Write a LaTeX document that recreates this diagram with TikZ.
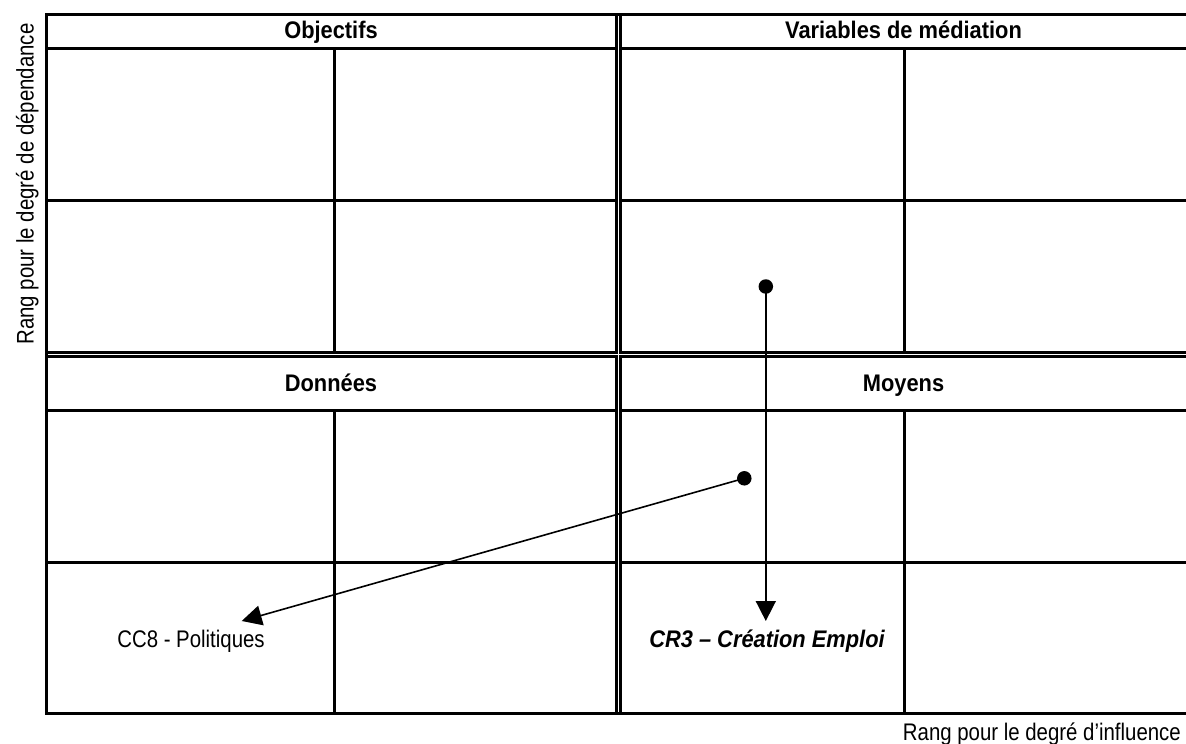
\documentclass[tikz,border=0pt]{standalone}
\usepackage{fontspec}
\setmainfont{Liberation Sans}[FakeStretch=0.85]
\newfontfamily\boldnarrow{Liberation Sans}[FakeStretch=0.91]
\usetikzlibrary{arrows.meta}
\tikzset{
  hdr/.style={font=\boldnarrow\bfseries\fontsize{24}{28}\selectfont, anchor=base, inner sep=0pt},
  lbl/.style={font=\fontsize{24}{28}\selectfont, anchor=base, inner sep=0pt},
  gridline/.style={line width=3pt, line join=miter},
  dbl/.style={line width=7.2pt},
  gap/.style={line width=1.3pt, white},
  dotnode/.style={circle, fill=black, inner sep=0pt, minimum size=14.5pt},
  arr/.style={line width=1.6pt, -{Triangle[length=20pt,width=20pt]}}
}
\begin{document}
\begin{tikzpicture}[x=1pt,y=-1pt]
\useasboundingbox (0,0) rectangle (1186,744);
% outer frame (open on the right)
\draw[gridline] (1186,14.7) -- (46.8,14.7) -- (46.8,713.8) -- (1186,713.8);
% header bottoms and row dividers
\draw[gridline] (46.8,48) -- (1186,48);
\draw[gridline] (46.8,200) -- (1186,200);
\draw[gridline] (46.8,410.5) -- (1186,410.5);
\draw[gridline] (46.8,562) -- (1186,562);
% inner verticals
\draw[gridline] (334.7,48) -- (334.7,352);
\draw[gridline] (904.7,48) -- (904.7,352);
\draw[gridline] (334.7,410.5) -- (334.7,713.8);
\draw[gridline] (904.7,410.5) -- (904.7,713.8);
% double lines
\draw[dbl] (46.8,354.4) -- (1186,354.4);
\draw[dbl] (618.5,13.2) -- (618.5,715.3);
\draw[gap] (48.3,354.4) -- (1186,354.4);
\draw[gap] (618.5,16.2) -- (618.5,712.3);
% headers
\node[hdr] (hobj) at (331,38.5) {Objectifs};
\node[hdr] (hvar) at (903.5,38.5) {Variables de médiation};
\node[hdr] (hdon) at (331,391.5) {Données};
\node[hdr] (hmoy) at (903.5,391.5) {Moyens};
% axis labels
\node[lbl, rotate=90] (ylab) at (33.5,184) {Rang pour le degré de dépendance};
\node[lbl, anchor=base east] (xlab) at (1181,740) {Rang pour le degré d’influence};
% item labels
\node[lbl] (cc8) at (191,647) {CC8 - Politiques};
\node[hdr, font=\boldnarrow\bfseries\itshape\fontsize{24}{28}\selectfont] (cr3) at (767,647) {CR3 – Création Emploi};
% dots and arrows
\node[dotnode] (d1) at (765.8,286.5) {};
\node[dotnode] (d2) at (744.3,478.3) {};
\coordinate (t1) at (765.8,621);
\coordinate (t2) at (241.7,621);
\draw[arr] (d1.center) -- (t1);
\draw[arr] (d2.center) -- (t2);
\end{tikzpicture}
\end{document}
